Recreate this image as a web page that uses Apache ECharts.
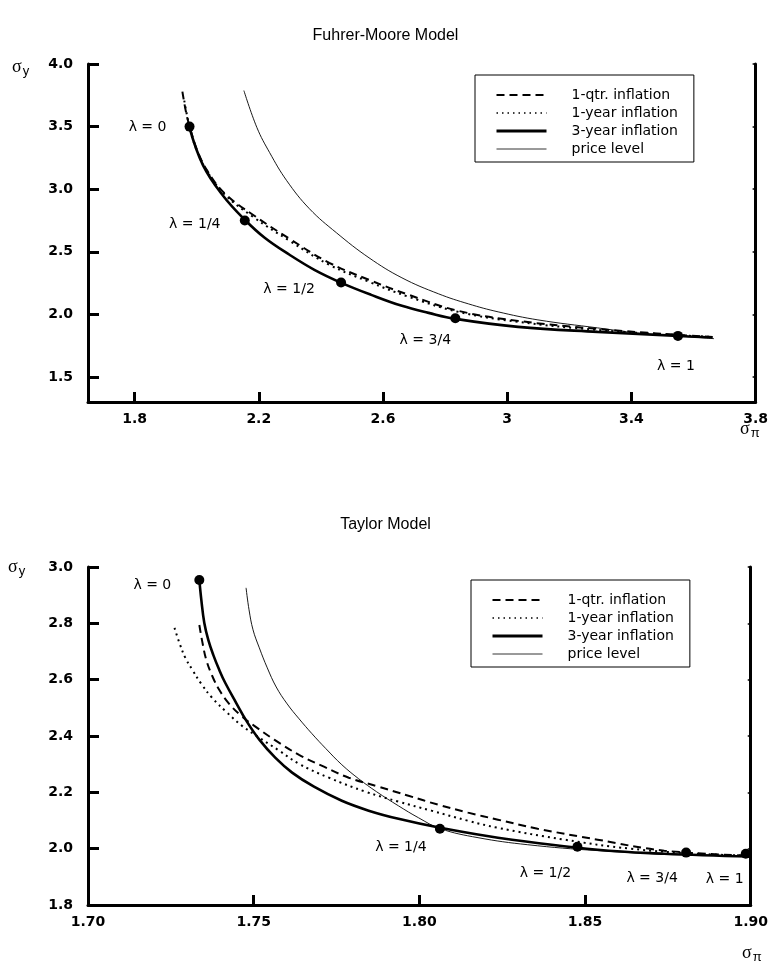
<!DOCTYPE html>
<html>
<head>
<meta charset="utf-8">
<script src="https://cdn.jsdelivr.net/npm/echarts@6/dist/echarts.min.js"></script>
<style>html,body{margin:0;padding:0;background:#fff}#c{width:771px;height:971px}</style>
</head>
<body>
<div id="c"></div>
<script>
// ---------- Data ----------
const seriesNames = ['1-qtr. inflation', '1-year inflation', '3-year inflation', 'price level'];
const lambdaNames = ['λ = 0', 'λ = 1/4', 'λ = 1/2', 'λ = 3/4', 'λ = 1'];

// Fuhrer-Moore model  [sigma_pi, sigma_y]
const fmQtr = [[1.954,3.78],[1.966,3.612],[1.979,3.484],[2.002,3.308],[2.034,3.148],[2.091,2.964],[2.181,2.796],[2.299,2.604],[2.427,2.412],[2.555,2.276],[2.683,2.156],[2.843,2.028],[3.035,1.948],[3.291,1.884],[3.550,1.836],[3.662,1.820]];
const fmYear = [[1.960,3.708],[1.979,3.476],[2.002,3.30],[2.034,3.14],[2.091,2.956],[2.181,2.78],[2.299,2.588],[2.427,2.396],[2.555,2.26],[2.683,2.14],[2.843,2.02],[3.035,1.94],[3.291,1.876],[3.550,1.834],[3.662,1.82]];
const fmThree = [[1.976,3.50],[2.021,3.188],[2.085,2.948],[2.155,2.756],[2.219,2.612],[2.299,2.476],[2.379,2.356],[2.466,2.252],[2.562,2.156],[2.661,2.068],[2.747,2.012],[2.834,1.964],[3.035,1.900],[3.291,1.860],[3.550,1.828],[3.660,1.815]];
const fmPrice = [[2.152,3.788],[2.194,3.492],[2.235,3.292],[2.290,3.068],[2.363,2.844],[2.450,2.652],[2.555,2.452],[2.661,2.292],[2.779,2.164],[2.875,2.084],[2.971,2.02],[3.099,1.956],[3.291,1.892],[3.419,1.852],[3.550,1.828],[3.666,1.806]];
const fmLambda = [[1.977,3.50],[2.155,2.75],[2.465,2.254],[2.833,1.969],[3.55,1.828]];

// Taylor model  [sigma_pi, sigma_y]
const tyQtr = [[1.7336,2.794],[1.7345,2.734],[1.7357,2.670],[1.7375,2.613],[1.7396,2.564],[1.7426,2.514],[1.7462,2.472],[1.7502,2.436],[1.7562,2.387],[1.7637,2.333],[1.7712,2.291],[1.7787,2.252],[1.7877,2.220],[1.7967,2.188],[1.8057,2.156],[1.8147,2.128],[1.8237,2.103],[1.8357,2.071],[1.8538,2.032],[1.8739,1.993],[1.8997,1.975]];
const tyYear = [[1.7261,2.784],[1.7276,2.730],[1.7294,2.677],[1.7315,2.635],[1.7342,2.585],[1.7375,2.535],[1.7417,2.486],[1.7465,2.436],[1.7517,2.394],[1.7577,2.348],[1.7637,2.301],[1.7727,2.252],[1.7838,2.202],[1.7937,2.167],[1.8036,2.135],[1.8147,2.099],[1.8237,2.074],[1.8438,2.032],[1.8637,2.0],[1.8838,1.982],[1.8997,1.975]];
const tyThree = [[1.7336,2.954],[1.7342,2.883],[1.7351,2.801],[1.7363,2.741],[1.7378,2.688],[1.7396,2.635],[1.7414,2.589],[1.7447,2.518],[1.7480,2.450],[1.7517,2.387],[1.7565,2.323],[1.7616,2.270],[1.7682,2.220],[1.7766,2.170],[1.7847,2.135],[1.7937,2.106],[1.8063,2.074],[1.8237,2.039],[1.8538,1.996],[1.8739,1.982],[1.8997,1.972]];
const tyPrice = [[1.7477,2.926],[1.7486,2.848],[1.7498,2.777],[1.7517,2.713],[1.7541,2.642],[1.7568,2.574],[1.7601,2.514],[1.7637,2.461],[1.7676,2.408],[1.7718,2.355],[1.7766,2.298],[1.7817,2.248],[1.7871,2.202],[1.7937,2.152],[1.7997,2.110],[1.8063,2.071],[1.8177,2.039],[1.8327,2.014],[1.8538,1.993],[1.8778,1.979],[1.8997,1.975]];
const tyLambda = [[1.7336,2.954],[1.8062,2.071],[1.8477,2.007],[1.8805,1.986],[1.8985,1.982]];

// Axis ticks
const fmXTicks = [1.8, 2.2, 2.6, 3.0, 3.4, 3.8];
const fmYTicks = [1.5, 2.0, 2.5, 3.0, 3.5, 4.0];
const tyXTicks = [1.70, 1.75, 1.80, 1.85, 1.90];
const tyYTicks = [1.8, 2.0, 2.2, 2.4, 2.6, 2.8, 3.0];

// ---------- Layout (not data) ----------
const fmLabelOffsets = [[-42,1],[-50,4],[-52,7],[-30,22],[-2,30]];
const tyLabelOffsets = [[-47,5],[-39,19],[-32,27],[-34,26],[-21,26]];

const SANS = 'DejaVu Sans';
const lineStyles = [
  {color:'#000', width:2, type:[8,5]},
  {color:'#000', width:2, type:[2,4]},
  {color:'#000', width:2.6, type:'solid'},
  {color:'#000', width:0.9, type:'solid'}
];
const legendLineStyles = [
  {color:'#000', width:2, type:[8,5]},
  {color:'#000', width:1.5, type:[1.5,4]},
  {color:'#000', width:3, type:'solid'},
  {color:'#000', width:0.8, type:'solid'}
];

function lineSeries(name, data, idx, styleIdx) {
  return {
    name: name, type: 'line', xAxisIndex: idx, yAxisIndex: idx * 2,
    data: data, showSymbol: false, symbol: 'none', smooth: 0.4,
    color: '#000', itemStyle: {color: '#000'},
    lineStyle: lineStyles[styleIdx], z: 3, silent: true
  };
}
function markerSeries(data, idx, offsets) {
  return {
    type: 'scatter', xAxisIndex: idx, yAxisIndex: idx * 2, z: 5, silent: true,
    symbol: 'circle', symbolSize: 10, itemStyle: {color:'#000', opacity: 1},
    data: data.map((d, i) => ({
      value: d,
      label: {
        show: true, formatter: lambdaNames[i], position: 'inside',
        offset: offsets[i], color: '#000', fontFamily: SANS, fontSize: 14,
        align: 'center', verticalAlign: 'middle'
      }
    }))
  };
}
function xAxis(idx, min, max, ticks, fmt) {
  return {
    type: 'value', gridIndex: idx, min: min, max: max,
    axisLine: {show: true, onZero: false, lineStyle: {color:'#000', width: 3}},
    axisTick: {show: true, inside: true, length: 10, customValues: ticks, lineStyle: {color:'#000', width: 3}},
    axisLabel: {customValues: ticks, formatter: fmt, color:'#000', fontFamily: SANS, fontWeight: 'bold', fontSize: 14, margin: 10},
    splitLine: {show: false}
  };
}
function yAxisLeft(idx, min, max, ticks) {
  return {
    type: 'value', gridIndex: idx, min: min, max: max, position: 'left',
    axisLine: {show: true, onZero: false, lineStyle: {color:'#000', width: 3}},
    axisTick: {show: true, inside: true, length: 11, customValues: ticks, lineStyle: {color:'#000', width: 3}},
    axisLabel: {customValues: ticks, formatter: v => v.toFixed(1), color:'#000', fontFamily: SANS, fontWeight: 'bold', fontSize: 14, margin: 15},
    splitLine: {show: false}
  };
}
function yAxisRight(idx, min, max, ticks) {
  return {
    type: 'value', gridIndex: idx, min: min, max: max, position: 'right',
    axisLine: {show: true, onZero: false, lineStyle: {color:'#000', width: 3}},
    axisTick: {show: true, inside: true, length: 3, customValues: ticks, lineStyle: {color:'#000', width: 1.5}},
    axisLabel: {show: false},
    splitLine: {show: false}
  };
}
function legend(left, top) {
  return {
    orient: 'vertical', left: left, top: top,
    data: seriesNames.map((n, i) => ({name: n, lineStyle: legendLineStyles[i]})),
    itemWidth: 50, itemHeight: 14, itemGap: 4,
    padding: [13, 16, 6, 20],
    borderColor: '#000', borderWidth: 1, backgroundColor: '#fff',
    selectedMode: false,
    itemStyle: {opacity: 0},
    textStyle: {color:'#000', fontFamily: SANS, fontSize: 14, padding: [0,0,0,20]}
  };
}
function sigma(x, y, sub) {
  return {
    type: 'text', left: x, top: y,
    style: {
      text: '{a|σ}{b|' + sub + '}',
      rich: {
        a: {fontFamily: 'Liberation Serif', fontSize: 18, fill: '#000'},
        b: {fontFamily: 'Liberation Sans', fontSize: 13, fill: '#000', padding: [8,0,0,1]}
      }
    }
  };
}

const option = {
  animation: false,
  backgroundColor: '#fff',
  title: [
    {text: 'Fuhrer-Moore Model', left: 'center', top: 23, textStyle: {fontFamily: 'Liberation Sans', fontSize: 16, fontWeight: 'normal', color: '#000'}},
    {text: 'Taylor Model', left: 'center', top: 512, textStyle: {fontFamily: 'Liberation Sans', fontSize: 16, fontWeight: 'normal', color: '#000'}}
  ],
  legend: [legend(475, 75), legend(471, 580)],
  grid: [
    {left: 88, right: 15, top: 64, height: 338},
    {left: 88, right: 18, top: 567, height: 338}
  ],
  xAxis: [
    xAxis(0, 1.65, 3.8, fmXTicks, v => String(Math.round(v * 10) / 10)),
    xAxis(1, 1.70, 1.90, tyXTicks, v => v.toFixed(2))
  ],
  yAxis: [
    yAxisLeft(0, 1.3, 4.0, fmYTicks),
    yAxisRight(0, 1.3, 4.0, fmYTicks),
    yAxisLeft(1, 1.8, 3.0, tyYTicks),
    yAxisRight(1, 1.8, 3.0, tyYTicks)
  ],
  graphic: [
    sigma(12, 58, 'y'),
    sigma(740, 420, 'π'),
    sigma(8, 558, 'y'),
    sigma(742, 944, 'π')
  ],
  series: [
    lineSeries(seriesNames[3], fmPrice, 0, 3),
    lineSeries(seriesNames[0], fmQtr, 0, 0),
    lineSeries(seriesNames[1], fmYear, 0, 1),
    lineSeries(seriesNames[2], fmThree, 0, 2),
    markerSeries(fmLambda, 0, fmLabelOffsets),
    lineSeries(seriesNames[3], tyPrice, 1, 3),
    lineSeries(seriesNames[0], tyQtr, 1, 0),
    lineSeries(seriesNames[1], tyYear, 1, 1),
    lineSeries(seriesNames[2], tyThree, 1, 2),
    markerSeries(tyLambda, 1, tyLabelOffsets)
  ]
};
const chart = echarts.init(document.getElementById('c'), null, {renderer: 'canvas'});
chart.setOption(option);
</script>
</body>
</html>
